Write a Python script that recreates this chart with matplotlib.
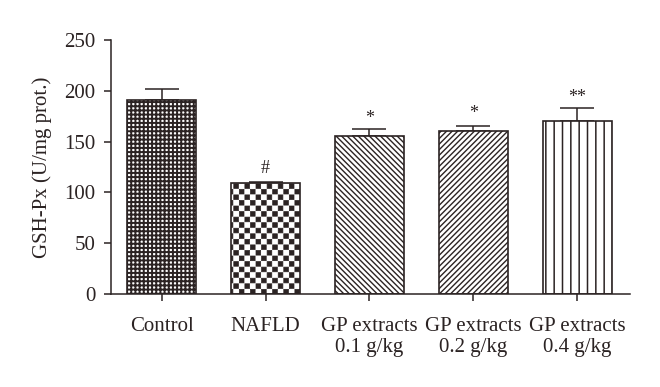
import matplotlib
matplotlib.use('Agg')
import matplotlib.pyplot as plt
import matplotlib.hatch as mhatch
from matplotlib.path import Path
import numpy as np

groups = ['Control', 'NAFLD', 'GP extracts\n0.1 g/kg', 'GP extracts\n0.2 g/kg', 'GP extracts\n0.4 g/kg']
means = [191, 109, 155.5, 160.5, 170]
errs = [10.5, 1, 6.5, 5, 13]
marks = ['', '#', '*', '*', '**']
mark_y = [0, 124, 173, 178, 193]
hatches = ['++++', 'OOO', '\\' * 6, '/' * 6, '||']

edge = '#2b2323'


# checkerboard hatch (takes the place of the large circles 'O')
class Checker(mhatch.HatchPatternBase):
    filled = True

    def __init__(self, hatch, density):
        self.num_cells = hatch.count('O') * density
        self.num_vertices = (self.num_cells ** 2 // 2) * 5

    def set_vertices_and_codes(self, vertices, codes):
        n = self.num_cells
        s = 1.0 / n
        pad = s * 0.08
        k = 0
        for i in range(n):
            for j in range(n):
                if (i + j) % 2 == 0:
                    x0, y0 = i * s + pad, j * s + pad
                    x1, y1 = (i + 1) * s - pad, (j + 1) * s - pad
                    vertices[k:k + 5] = [[x0, y0], [x1, y0], [x1, y1], [x0, y1], [x0, y0]]
                    codes[k:k + 5] = [Path.MOVETO, Path.LINETO, Path.LINETO,
                                      Path.LINETO, Path.CLOSEPOLY]
                    k += 5


mhatch._hatch_types[:] = [t for t in mhatch._hatch_types if t is not mhatch.LargeCircles]
mhatch._hatch_types.append(Checker)

plt.rcParams['font.family'] = ['Liberation Serif', 'DejaVu Serif']
plt.rcParams['hatch.linewidth'] = 1.0

fig = plt.figure(figsize=(6.6, 3.87), dpi=100)
ax = fig.add_axes([0.168, 0.2403, 0.7865, 0.6563])

x = np.arange(len(groups))
hatch_lw = [1.4, 0.5, 1.0, 1.0, 1.1]
bars = ax.bar(x, means, width=0.665, color='white', edgecolor=edge, linewidth=1.2, zorder=2)
for b, h, lw in zip(bars, hatches, hatch_lw):
    b.set_hatch(h)
    if hasattr(b, 'set_hatch_linewidth'):
        b.set_hatch_linewidth(lw)

ax.errorbar(x, means, yerr=[np.zeros(len(errs)), errs], fmt='none', ecolor=edge,
            elinewidth=1.1, capsize=12, capthick=1.1, zorder=1)

for xi, m, my in zip(x, marks, mark_y):
    if m:
        ax.text(xi, my, m, ha='center', va='center', fontsize=13, color=edge)

ax.set_xlim(-0.49, 4.51)
ax.set_ylim(0, 250)
ax.set_yticks([0, 50, 100, 150, 200, 250])
ax.set_xticks(x)
ax.set_xticklabels(groups, fontsize=15, linespacing=1.13)
ax.tick_params(axis='y', labelsize=15, length=5, width=1.1, pad=6, colors=edge)
ax.tick_params(axis='x', length=5, width=1.1, pad=11.5, colors=edge)
ax.set_ylabel('GSH-Px (U/mg prot.)', fontsize=15, color=edge, labelpad=9)

ax.spines['top'].set_visible(False)
ax.spines['right'].set_visible(False)
for sp in ['left', 'bottom']:
    ax.spines[sp].set_linewidth(1.1)
    ax.spines[sp].set_color(edge)

fig.savefig('out.png', dpi=100)
